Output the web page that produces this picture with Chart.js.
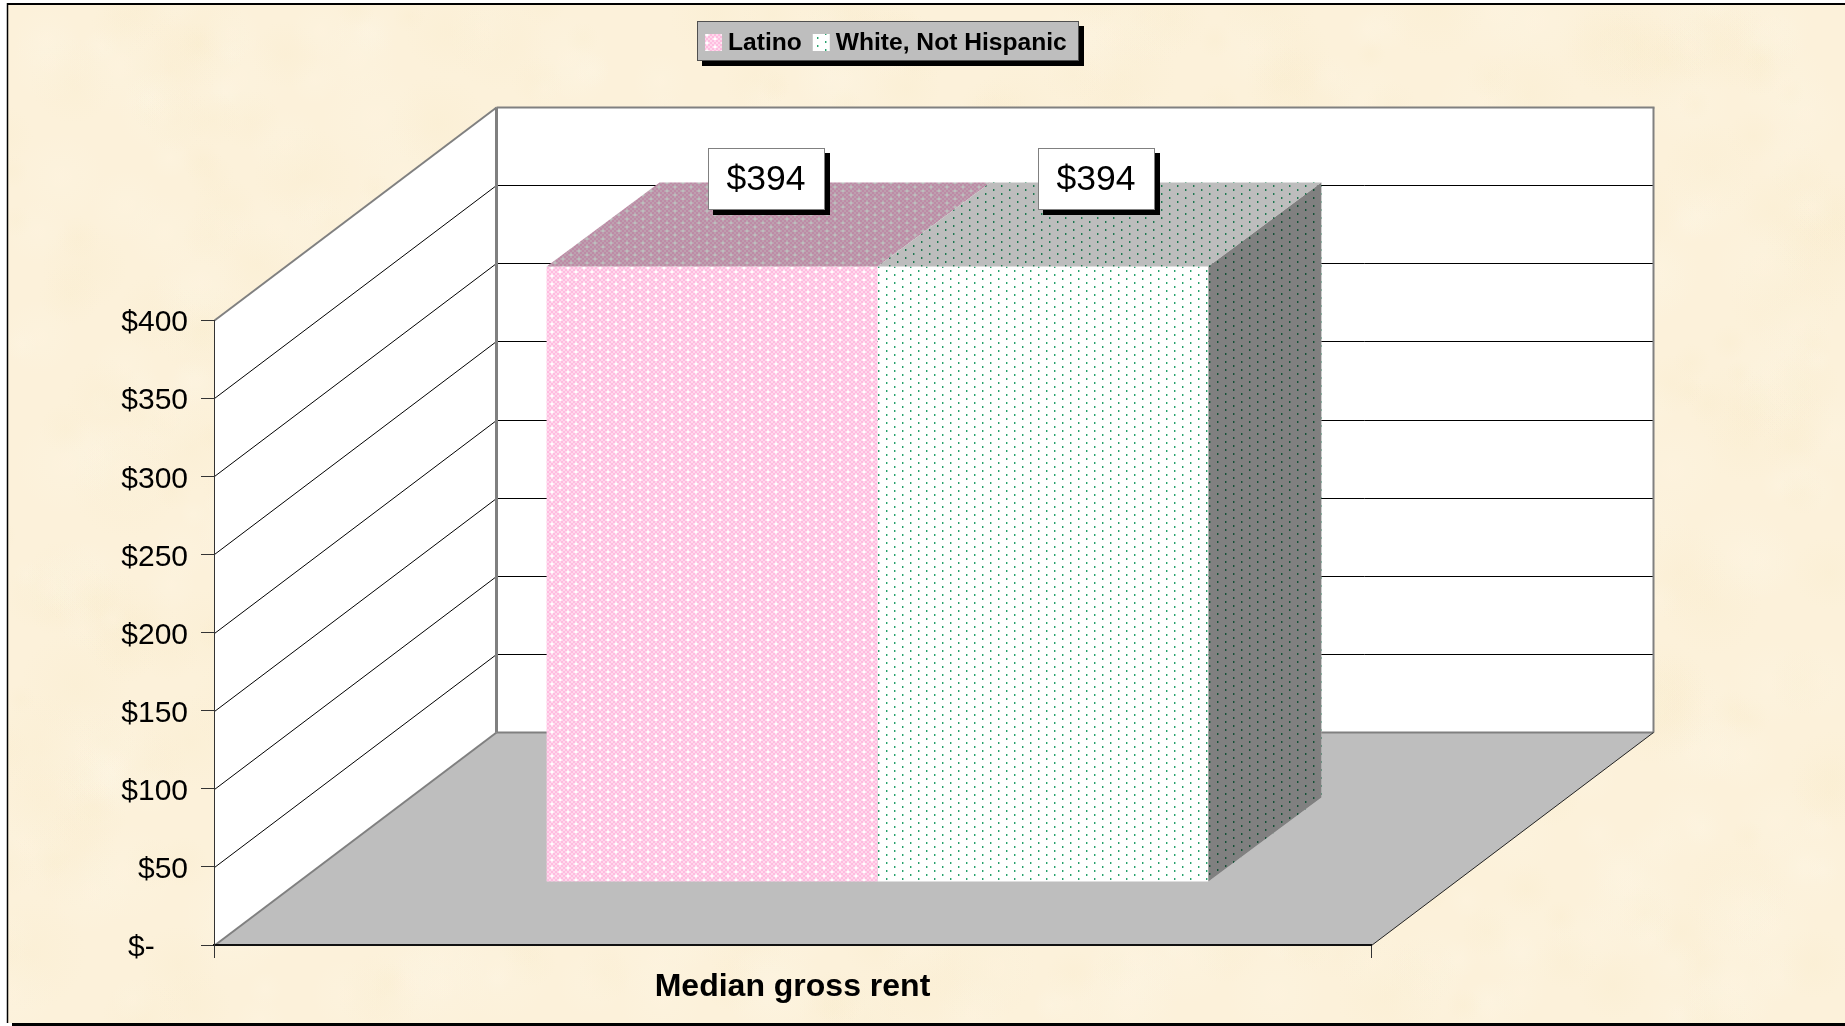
<!DOCTYPE html>
<html>
<head>
<meta charset="utf-8">
<style>
  html, body { margin: 0; padding: 0; background: #fff; overflow: hidden; }
  canvas { display: block; }
</style>
<script src="https://cdn.jsdelivr.net/npm/chart.js@4/dist/chart.umd.min.js"></script>
</head>
<body>
<canvas id="chart" width="1845" height="1026"></canvas>
<script>
const categories = ["Median gross rent"];
const seriesNames = ["Latino", "White, Not Hispanic"];
const latinoRent = [394];
const whiteRent = [394];
const yTickLabels = ["$-    ", "$50", "$100", "$150", "$200", "$250", "$300", "$350", "$400"];

const FONT = '"Liberation Sans", Arial, sans-serif';

// perspectiva de la caixa 3D (píxels)
const WALL_DX = 282, WALL_DY = 213;
const BAR_DX = 85, BAR_DY = -63;   // on cau la cara frontal de la barra
const DEPTH_DX = 113, DEPTH_DY = 84;

// tiles de 16x8 per als patrons
function makeTile(paint) {
  const c = document.createElement("canvas");
  c.width = 16; c.height = 8;
  paint(c.getContext("2d"));
  return c.getContext("2d").createPattern(c, "repeat");
}

const pinkPattern = makeTile((g) => {
  for (let y = 0; y < 8; y += 2) {
    for (let x = 0; x < 16; x += 2) {
      g.fillStyle = ((x + y) / 2) % 2 === 0 ? "#ffbce0" : "#ffd8ec";
      g.fillRect(x, y, 2, 2);
    }
  }
  [[2, 2], [10, 6]].forEach(([x, y]) => {
    g.fillStyle = "#ffe8f4";
    g.fillRect(x - 1, y, 4, 2);
    g.fillRect(x, y - 1, 2, 4);
    g.fillStyle = "#ffffff";
    g.fillRect(x, y, 2, 2);
  });
});

const greenPattern = makeTile((g) => {
  g.fillStyle = "#ffffff";
  g.fillRect(0, 0, 16, 8);
  [[1, 5], [9, 1]].forEach(([x, y]) => {
    g.fillStyle = "#a0dcc0";
    g.fillRect(x, y, 2, 2);
    g.fillStyle = "#2a9f6e";
    g.fillRect(x, y, 1, 2);
  });
});

function poly(ctx, pts) {
  ctx.beginPath();
  pts.forEach(([x, y], i) => (i ? ctx.lineTo(x, y) : ctx.moveTo(x, y)));
  ctx.closePath();
}

function seg(ctx, x0, y0, x1, y1, color, w) {
  ctx.strokeStyle = color;
  ctx.lineWidth = w;
  ctx.beginPath();
  ctx.moveTo(x0, y0);
  ctx.lineTo(x1, y1);
  ctx.stroke();
}

// fons tipus pergamí: taques suaus repartides amb una seqüència fixa
function drawParchment(ctx, w, h) {
  ctx.fillStyle = "#fcf1da";
  ctx.fillRect(0, 0, w, h);
  let s = 7;
  const next = () => (s = (s * 16807) % 2147483647) / 2147483647;
  for (let i = 0; i < 900; i++) {
    const x = next() * w, y = next() * h, r = 14 + next() * 42;
    const tone = next() > 0.5 ? "255,247,232" : "248,234,200";
    const grad = ctx.createRadialGradient(x, y, 0, x, y, r);
    grad.addColorStop(0, `rgba(${tone},0.22)`);
    grad.addColorStop(1, `rgba(${tone},0)`);
    ctx.fillStyle = grad;
    ctx.fillRect(x - r, y - r, r * 2, r * 2);
  }
}

const box3d = {
  id: "box3d",
  beforeDraw(chart) {
    const { ctx, chartArea: a, scales: { y } } = chart;
    const L = a.left + 0.5, R = a.right + 0.5, T = a.top + 0.5, B = a.bottom + 0.5;
    const W = chart.width, H = chart.height;
    ctx.save();

    // marc exterior
    ctx.fillStyle = "#fff";
    ctx.fillRect(0, 0, W, H);
    ctx.save();
    ctx.beginPath();
    ctx.rect(7, 3, W - 7, 1020);
    ctx.clip();
    drawParchment(ctx, W, H);
    ctx.restore();
    seg(ctx, 7, 4, W, 4, "#000", 2);
    seg(ctx, 7.5, 3, 7.5, 1023, "#000", 1.5);
    ctx.fillStyle = "#000";
    ctx.fillRect(12, 1023, W - 12, 3);

    // parets i terra
    ctx.fillStyle = "#fff";
    poly(ctx, [[L, T], [L + WALL_DX, T - WALL_DY], [R + WALL_DX, T - WALL_DY], [R + WALL_DX, B - WALL_DY], [L + WALL_DX, B - WALL_DY], [L, B]]);
    ctx.fill();
    ctx.fillStyle = "#bebebe";
    poly(ctx, [[L, B], [L + WALL_DX, B - WALL_DY], [R + WALL_DX, B - WALL_DY], [R, B]]);
    ctx.fill();

    // graella
    y.ticks.forEach((t) => {
      if (t.value === 0 || t.value === y.max) return;
      const py = Math.round(y.getPixelForValue(t.value)) + 0.5;
      seg(ctx, L, py, L + WALL_DX, py - WALL_DY, "#000", 1);
      seg(ctx, L + WALL_DX, py - WALL_DY, R + WALL_DX, py - WALL_DY, "#000", 1);
    });

    // vores
    seg(ctx, L, T, L + WALL_DX, T - WALL_DY, "#808080", 2);
    seg(ctx, L + WALL_DX, T - WALL_DY, R + WALL_DX + 1, T - WALL_DY, "#808080", 2);
    seg(ctx, R + WALL_DX, T - WALL_DY, R + WALL_DX, B - WALL_DY, "#808080", 2);
    seg(ctx, L + WALL_DX, T - WALL_DY, L + WALL_DX, B - WALL_DY, "#808080", 3);
    seg(ctx, L + WALL_DX, B - WALL_DY, R + WALL_DX, B - WALL_DY, "#808080", 2);
    seg(ctx, L, B, L + WALL_DX, B - WALL_DY, "#808080", 2);
    seg(ctx, R, B, R + WALL_DX, B - WALL_DY, "#222", 1);

    ctx.restore();
  },
  beforeDatasetsDraw(chart) {
    chart.ctx.save();
    chart.ctx.translate(BAR_DX, BAR_DY);
  },
  afterDatasetsDraw(chart) {
    const { ctx } = chart;
    ctx.restore();
    const bars = chart.data.datasets.map((d, i) => chart.getDatasetMeta(i).data[0].getProps(["x", "y", "base", "width"], true));

    // cara de dalt i lateral: el mateix patró, enfosquit
    const shade = (pts, pattern, tint) => {
      ctx.save();
      poly(ctx, pts);
      ctx.clip();
      ctx.fillStyle = pattern;
      ctx.fillRect(0, 0, chart.width, chart.height);
      ctx.globalCompositeOperation = "multiply";
      ctx.fillStyle = tint;
      ctx.fillRect(0, 0, chart.width, chart.height);
      ctx.restore();
    };
    bars.forEach((b, i) => {
      const l = b.x - b.width / 2 + BAR_DX, r = b.x + b.width / 2 + BAR_DX, t = b.y + BAR_DY;
      shade([[l, t], [l + DEPTH_DX, t - DEPTH_DY], [r + DEPTH_DX, t - DEPTH_DY], [r, t]], chart.data.datasets[i].backgroundColor, "#bdbdbd");
    });
    const last = bars[bars.length - 1];
    const r = last.x + last.width / 2 + BAR_DX, t = last.y + BAR_DY, bt = last.base + BAR_DY;
    shade([[r, t], [r + DEPTH_DX, t - DEPTH_DY], [r + DEPTH_DX, bt - DEPTH_DY], [r, bt]], chart.data.datasets[bars.length - 1].backgroundColor, "#808080");

    // etiquetes de valor
    ctx.save();
    ctx.font = `35.5px ${FONT}`;
    ctx.textAlign = "center";
    ctx.textBaseline = "middle";
    bars.forEach((b, i) => {
      const x = b.x + BAR_DX + 53.5, yTop = Math.round(b.y + BAR_DY - 118), w = 116, h = 61;
      const left = Math.round(x - w / 2);
      ctx.fillStyle = "#000";
      ctx.fillRect(left + 5, yTop + 5, w + 1, h + 1);
      ctx.fillStyle = "#fff";
      ctx.fillRect(left, yTop, w, h);
      ctx.strokeStyle = "#808080";
      ctx.lineWidth = 1;
      ctx.strokeRect(left + 0.5, yTop + 0.5, w, h);
      ctx.fillStyle = "#000";
      ctx.fillText("$" + chart.data.datasets[i].data[0], left + w / 2, yTop + h / 2 + 2);
    });
    ctx.restore();
  },
  afterDraw(chart) {
    // llegenda amb ombra
    const { ctx } = chart;
    const x = 697, y = 21, w = 381, h = 39;
    ctx.save();
    ctx.fillStyle = "#000";
    ctx.fillRect(x + 5, y + 5, w + 1, h + 1);
    ctx.fillStyle = "#bebebe";
    ctx.fillRect(x, y, w, h);
    ctx.strokeStyle = "#505050";
    ctx.lineWidth = 1;
    ctx.strokeRect(x + 0.5, y + 0.5, w, h);
    ctx.font = `bold 24.6px ${FONT}`;
    ctx.textBaseline = "middle";
    let cx = 705;
    chart.data.datasets.forEach((d) => {
      ctx.fillStyle = d.backgroundColor;
      ctx.fillRect(cx, 34, 17, 17);
      ctx.fillStyle = "#000";
      ctx.fillText(d.label, cx + 23, 43);
      cx += 23 + ctx.measureText(d.label).width + 11;
    });
    ctx.restore();
  }
};

new Chart(document.getElementById("chart"), {
  type: "bar",
  plugins: [box3d],
  data: {
    labels: categories,
    datasets: [
      { label: seriesNames[0], data: latinoRent, backgroundColor: pinkPattern, borderWidth: 0 },
      { label: seriesNames[1], data: whiteRent, backgroundColor: greenPattern, borderWidth: 0 }
    ]
  },
  options: {
    responsive: false,
    animation: false,
    layout: { padding: { top: 320, right: 474, left: 0, bottom: 0 } },
    datasets: { bar: { categoryPercentage: 0.572, barPercentage: 1 } },
    plugins: { legend: { display: false }, tooltip: { enabled: false } },
    scales: {
      x: {
        grid: { drawOnChartArea: false, drawTicks: true, tickLength: 13, color: "#333" },
        border: { color: "#111", width: 2 },
        ticks: { color: "#000", font: { family: FONT, size: 32, weight: "bold" }, padding: 10, maxRotation: 0 },
        afterFit(s) { s.height = 81; s.paddingLeft = 0; s.paddingRight = 0; }
      },
      y: {
        min: 0,
        max: 400,
        ticks: {
          stepSize: 50,
          color: "#000",
          padding: 13,
          labelOffset: 3,
          font: { family: FONT, size: 30 },
          callback: (v, i) => yTickLabels[i]
        },
        grid: { drawOnChartArea: false, drawTicks: true, tickLength: 13, color: "#333" },
        border: { color: "#333", width: 1 },
        afterFit(s) { s.width = 214; s.paddingTop = 0; s.paddingBottom = 0; }
      }
    }
  }
});
</script>
</body>
</html>
